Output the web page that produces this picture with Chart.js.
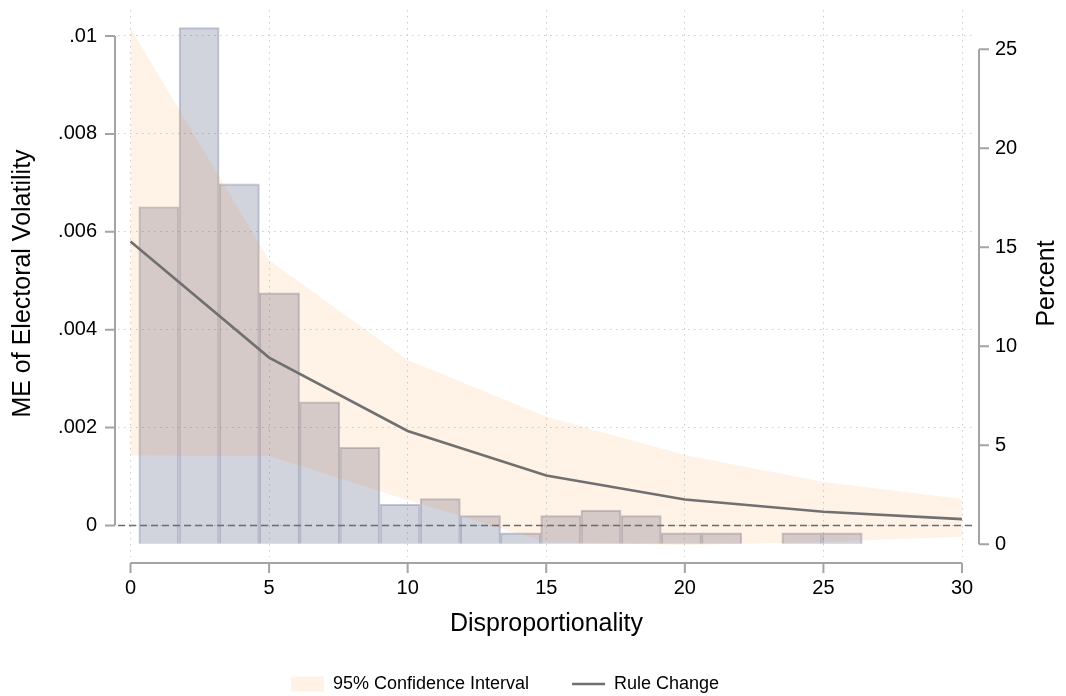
<!DOCTYPE html>
<html>
<head>
<meta charset="utf-8">
<title>Marginal effect of rule change on electoral volatility</title>
<script src="https://cdn.jsdelivr.net/npm/chart.js@4.4.1/dist/chart.umd.min.js"></script>
<style>
  html, body { margin: 0; padding: 0; background: #ffffff; }
  #wrap { width: 1066px; height: 696px; }
</style>
</head>
<body>
<div id="wrap"><canvas id="chart" width="1066" height="696"></canvas></div>
<script>
// Disproportionality values at which the marginal effect was evaluated
const xKnots = [0, 5, 10, 15, 20, 25, 30];
// Marginal effect of a rule change on electoral volatility
const ruleChange = [0.0058, 0.00343, 0.00193, 0.00102, 0.00053, 0.00028, 0.00013];
// 95% confidence interval bounds
const ciUpper = [0.01016, 0.00542, 0.00338, 0.00222, 0.00144, 0.00089, 0.00054];
const ciLower = [0.00143, 0.00142, 0.00052, -0.00034, -0.0004, -0.00034, -0.00023];

// Histogram of disproportionality (bin centres, bin width 1.45, percent of cases)
const binCenters = [1.025, 2.475, 3.925, 5.375, 6.825, 8.275, 9.725, 11.175, 12.625,
                    14.075, 15.525, 16.975, 18.425, 19.875, 21.325, 22.775, 24.225, 25.675];
const binPercent = [17.05, 26.1, 18.2, 12.7, 7.2, 4.9, 2.02, 2.31, 1.45,
                    0.58, 1.45, 1.73, 1.45, 0.58, 0.58, 0, 0.58, 0.58];

// Tick values for each axis
const xTicks = [0, 5, 10, 15, 20, 25, 30];
const leftTicks = [0, 0.002, 0.004, 0.006, 0.008, 0.01];
const rightTicks = [0, 5, 10, 15, 20, 25];
const rightTitle = 'Percent';

const FONT = "'Liberation Sans', Arial, Helvetica, sans-serif";
const AXIS_GREY = '#a4a4a4';
const GRID_GREY = '#cdcdcd';

const toPoints = (xs, ys) => xs.map((x, i) => ({ x: x, y: ys[i] }));
const fixTicks = (values) => (axis) => { axis.ticks = values.map(v => ({ value: v })); };
// keep tick labels from pushing the plot area inwards
const noEdgePadding = (extra) => (s) => {
  s.paddingTop = 0; s.paddingBottom = 0; s.paddingLeft = 0; s.paddingRight = 0;
  extra(s);
};

// Stata-style axis lines that only span the labelled range, with outward ticks
const rangeAxes = {
  id: 'rangeAxes',
  afterDraw(chart) {
    const { ctx, chartArea, scales } = chart;
    const tick = 10;
    ctx.save();
    ctx.strokeStyle = AXIS_GREY;
    ctx.lineWidth = 2;
    ctx.lineCap = 'butt';

    // left axis
    const lx = chartArea.left - 3;
    ctx.beginPath();
    ctx.moveTo(lx, scales.y.getPixelForValue(leftTicks[leftTicks.length - 1]));
    ctx.lineTo(lx, scales.y.getPixelForValue(leftTicks[0]));
    leftTicks.forEach(v => {
      const py = scales.y.getPixelForValue(v);
      ctx.moveTo(lx - tick, py); ctx.lineTo(lx, py);
    });
    ctx.stroke();

    // right axis
    const rx = chartArea.right + 4;
    ctx.beginPath();
    ctx.moveTo(rx, scales.y2.getPixelForValue(rightTicks[rightTicks.length - 1]));
    ctx.lineTo(rx, scales.y2.getPixelForValue(rightTicks[0]));
    rightTicks.forEach(v => {
      const py = scales.y2.getPixelForValue(v);
      ctx.moveTo(rx, py); ctx.lineTo(rx + tick, py);
    });
    ctx.stroke();

    // bottom axis
    const by = chartArea.bottom + 6;
    ctx.beginPath();
    ctx.moveTo(scales.x.getPixelForValue(xTicks[0]), by);
    ctx.lineTo(scales.x.getPixelForValue(xTicks[xTicks.length - 1]), by);
    xTicks.forEach(v => {
      const px = scales.x.getPixelForValue(v);
      ctx.moveTo(px, by); ctx.lineTo(px, by + tick);
    });
    ctx.stroke();

    // right-hand axis title, reading bottom to top like the left one
    ctx.fillStyle = '#000000';
    ctx.font = '25px ' + FONT;
    ctx.textAlign = 'center';
    ctx.textBaseline = 'middle';
    ctx.translate(scales.y2.right - 19, (chartArea.top + chartArea.bottom) / 2);
    ctx.rotate(-Math.PI / 2);
    ctx.fillText(rightTitle, 0, 0);
    ctx.restore();
  }
};

// Dashed reference line at zero effect
const zeroLine = {
  id: 'zeroLine',
  afterDatasetsDraw(chart) {
    const { ctx, chartArea, scales } = chart;
    const py = scales.y.getPixelForValue(0);
    ctx.save();
    ctx.strokeStyle = '#6c6c6c';
    ctx.lineWidth = 1.6;
    ctx.setLineDash([7, 4]);
    ctx.beginPath();
    ctx.moveTo(chartArea.left, py);
    ctx.lineTo(chartArea.right, py);
    ctx.stroke();
    ctx.restore();
  }
};

// Nudge the legend row so that it sits a little left of the page centre
const legendShift = {
  id: 'legendShift',
  afterLayout(chart) {
    const lg = chart.legend;
    if (lg) { lg.left -= 28; lg.right -= 28; }
  }
};

new Chart(document.getElementById('chart'), {
  type: 'bar',
  data: {
    datasets: [
      {
        type: 'line',
        label: 'Rule Change',
        data: toPoints(xKnots, ruleChange),
        yAxisID: 'y',
        borderColor: '#707070',
        borderWidth: 2.6,
        pointRadius: 0,
        pointStyle: 'line',
        tension: 0,
        fill: false
      },
      {
        type: 'line',
        label: '95% Confidence Interval',
        data: toPoints(xKnots, ciUpper),
        yAxisID: 'y',
        borderWidth: 0,
        borderColor: 'rgba(0,0,0,0)',
        backgroundColor: 'rgba(255,127,14,0.1)',
        pointRadius: 0,
        pointStyle: 'rect',
        tension: 0,
        fill: '+1'
      },
      {
        type: 'line',
        label: '',
        data: toPoints(xKnots, ciLower),
        yAxisID: 'y',
        borderWidth: 0,
        borderColor: 'rgba(0,0,0,0)',
        pointRadius: 0,
        tension: 0,
        fill: false
      },
      {
        type: 'bar',
        label: '',
        data: toPoints(binCenters, binPercent),
        yAxisID: 'y2',
        backgroundColor: 'rgba(45,55,100,0.22)',
        borderColor: 'rgba(45,55,100,0.27)',
        borderWidth: 1.3,
        categoryPercentage: 1,
        barPercentage: 1,
        grouped: false
      }
    ]
  },
  options: {
    responsive: false,
    animation: false,
    devicePixelRatio: 1,
    layout: { padding: { top: 10, left: 0, right: 0, bottom: 0 } },
    plugins: {
      tooltip: { enabled: false },
      legend: {
        position: 'bottom',
        reverse: true,
        maxHeight: 64,
        labels: {
          filter: (item) => item.text !== '',
          usePointStyle: true,
          pointStyleWidth: 33,
          boxHeight: 15,
          padding: 43,
          color: '#000000',
          font: { family: FONT, size: 18 }
        }
      }
    },
    scales: {
      x: {
        type: 'linear',
        position: 'bottom',
        min: -0.451,
        max: 30.469,
        offset: false,
        afterBuildTicks: fixTicks(xTicks),
        afterFit: noEdgePadding((s) => { s.height = 75; }),
        ticks: {
          padding: 19,
          color: '#000000',
          font: { family: FONT, size: 20 },
          maxRotation: 0
        },
        grid: { offset: false, color: GRID_GREY, lineWidth: 1, drawTicks: false },
        border: { display: false, dash: [1.5, 4.5] },
        title: {
          display: true,
          text: 'Disproportionality',
          color: '#000000',
          font: { family: FONT, size: 25, lineHeight: 0.64 },
          padding: { top: 0, bottom: 0 }
        }
      },
      y: {
        type: 'linear',
        position: 'left',
        min: -0.000644,
        max: 0.010531,
        afterBuildTicks: fixTicks(leftTicks),
        afterFit: noEdgePadding((s) => { s.width = 118; }),
        ticks: {
          padding: 21,
          color: '#000000',
          font: { family: FONT, size: 20 },
          callback: (v) => v === 0 ? '0' : String(Number(v.toFixed(4))).replace(/^0\./, '.')
        },
        grid: { color: GRID_GREY, lineWidth: 1, drawTicks: false },
        border: { display: false, dash: [1.5, 4.5] },
        title: {
          display: true,
          text: 'ME of Electoral Volatility',
          color: '#000000',
          font: { family: FONT, size: 25, lineHeight: 1 },
          padding: { top: 10.5, bottom: 0 }
        }
      },
      y2: {
        type: 'linear',
        position: 'right',
        min: -0.641,
        max: 26.985,
        afterBuildTicks: fixTicks(rightTicks),
        afterFit: noEdgePadding((s) => { s.width = 91; }),
        ticks: {
          padding: 20,
          color: '#000000',
          font: { family: FONT, size: 20 }
        },
        grid: { drawOnChartArea: false, drawTicks: false },
        border: { display: false },
        title: { display: false }
      }
    }
  },
  plugins: [rangeAxes, zeroLine, legendShift]
});
</script>
</body>
</html>
